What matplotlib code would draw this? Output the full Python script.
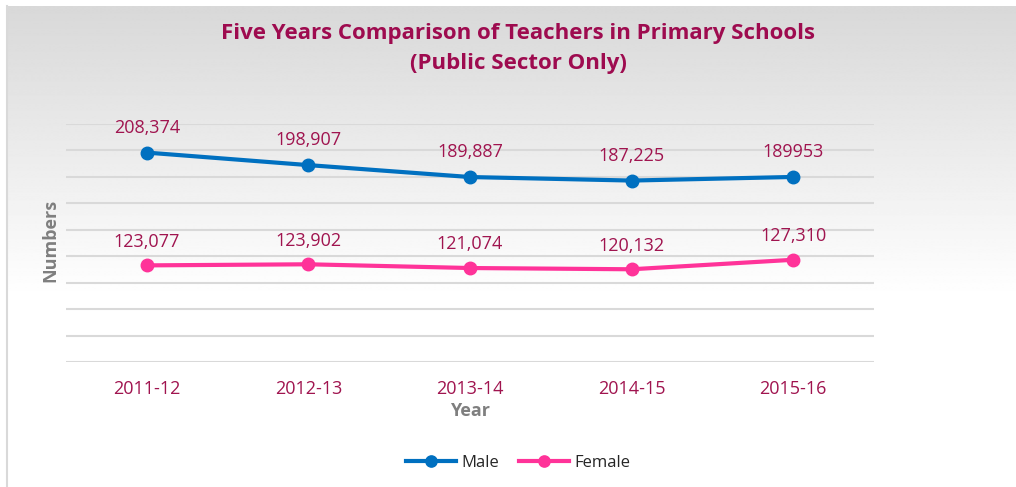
import matplotlib
matplotlib.use("Agg")
import matplotlib.pyplot as plt
import numpy as np

years = ["2011-12", "2012-13", "2013-14", "2014-15", "2015-16"]
male = [208374, 198907, 189887, 187225, 189953]
female = [123077, 123902, 121074, 120132, 127310]
male_labels = ["208,374", "198,907", "189,887", "187,225", "189953"]
female_labels = ["123,077", "123,902", "121,074", "120,132", "127,310"]

W, H = 1016, 487
fig = plt.figure(figsize=(W / 100, H / 100), dpi=100)
fig.patch.set_facecolor("white")

# background gradient panel
bg = fig.add_axes([0, 0, 1, 1], zorder=0)
bg.set_xlim(0, W)
bg.set_ylim(H, 0)
bg.axis("off")
ys = np.arange(H)
vals = np.clip(217 + (ys - 6) * (255 - 217) / (295 - 6), 217, 255) / 255.0
img = np.repeat(vals[:, None], 2, axis=1)
bg.imshow(img, cmap="gray", vmin=0, vmax=1, extent=[6, W, H, 6], aspect="auto", interpolation="bilinear")
bg.plot([6.5, 6.5], [6, H], color="#d9d9d9", lw=1.5)

ax = fig.add_axes([66 / W, 1 - 362 / H, (874 - 66) / W, (362 - 124) / H], zorder=1)
ax.patch.set_alpha(0)
x = np.arange(len(years))
male_c = "#0070C0"
fem_c = "#FF3399"
lab_c = "#A0144F"

ax.set_xlim(-0.5, 4.5)
ax.set_ylim(50000, 230000)
ax.set_yticks(np.arange(50000, 230001, 20000))
ax.yaxis.grid(True, color="#d9d9d9", lw=1.5)
ax.set_axisbelow(True)
ax.tick_params(axis="y", length=0, labelleft=False)
ax.tick_params(axis="x", length=0, pad=13)
for s in ax.spines.values():
    s.set_visible(False)
ax.set_xticks(x)
ax.set_xticklabels(years, fontsize=13, color=lab_c, family="Open Sans")

ax.plot(x, male, color=male_c, lw=3, marker="o", ms=9, label="Male", zorder=3)
ax.plot(x, female, color=fem_c, lw=3, marker="o", ms=9, label="Female", zorder=3)
for xi, v, t in zip(x, male, male_labels):
    ax.annotate(t, (xi, v), xytext=(0, 18), textcoords="offset points", ha="center", va="center",
                fontsize=13, color=lab_c, family="Open Sans")
for xi, v, t in zip(x, female, female_labels):
    ax.annotate(t, (xi, v), xytext=(0, 17), textcoords="offset points", ha="center", va="center",
                fontsize=13, color=lab_c, family="Open Sans")

ax.set_xlabel("Year", fontsize=13, color="#7f7f7f", fontweight="bold", family="Open Sans", labelpad=3)
fig.text(50 / W, 1 - 240 / H, "Numbers", rotation=90, ha="center", va="center",
         fontsize=13, color="#7f7f7f", fontweight="bold", family="Open Sans")

fig.text(518 / W, 1 - 34 / H, "Five Years Comparison of Teachers in Primary Schools",
         ha="center", va="center", fontsize=16, fontweight="bold", color="#9E0B4F", family="Open Sans")
fig.text(518 / W, 1 - 63 / H, "(Public Sector Only)",
         ha="center", va="center", fontsize=16, fontweight="bold", color="#9E0B4F", family="Open Sans")

leg = ax.legend(loc="center", bbox_to_anchor=(518 / W, 1 - 463 / H), bbox_transform=fig.transFigure,
                ncol=2, frameon=False, handlelength=3, columnspacing=1.2, markerscale=0.9,
                handletextpad=0.3, prop={"family": "Open Sans", "size": 12})
for t in leg.get_texts():
    t.set_color("#262626")

fig.savefig("out.png", dpi=100)
